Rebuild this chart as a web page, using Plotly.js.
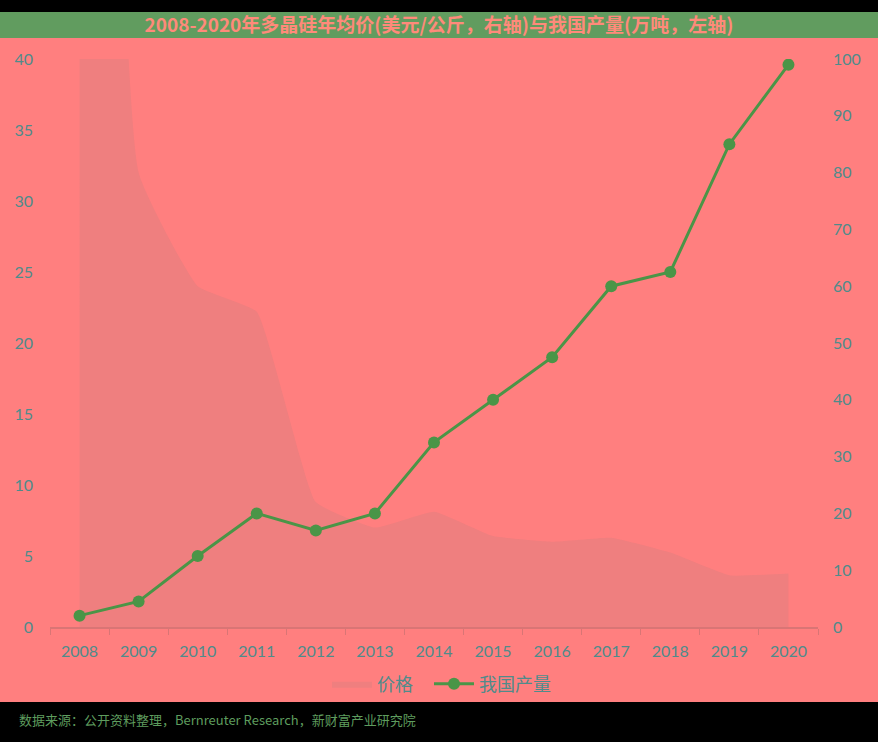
<!DOCTYPE html>
<html>
<head>
<meta charset="utf-8">
<script src="https://cdn.plot.ly/plotly-3.0.1.min.js"></script>
<style>
html,body{margin:0;padding:0;background:#000;}
#chart{width:878px;height:742px;}
</style>
</head>
<body>
<div id="chart"></div>
<script>
const years = ['2008','2009','2010','2011','2012','2013','2014','2015','2016','2017','2018','2019','2020'];
const price = [450, 80, 60, 55.5, 22, 17.5, 20.3, 16, 15, 15.7, 13.1, 9.1, 9.4];
const output = [0.8, 1.8, 5.0, 8.0, 6.8, 8.0, 13.0, 16.0, 19.0, 24.0, 25.0, 34.0, 39.6];
const titleText = '2008-2020年多晶硅年均价(美元/公斤，右轴)与我国产量(万吨，左轴)';
const sourceText = '数据来源：公开资料整理，Bernreuter Research，新财富产业研究院';

const W = 878, H = 742;
const L = 50, R = 60, T = 59, B = 115;
const pw = W - L - R, ph = H - T - B;
const px = p => (p - L) / pw;
const py = p => (H - B - p) / ph;

const labelColor = '#4f8b8b';
const font = 'Lato, "Noto Sans CJK SC", "Noto Sans", sans-serif';
const legendFont = {size: 18, color: labelColor, family: '"Noto Sans CJK SC", sans-serif'};

const traces = [
  {
    x: years, y: price, name: '价格', type: 'scatter', mode: 'lines',
    fill: 'tozeroy', fillcolor: '#EF7F7F',
    line: {width: 0, shape: 'spline', smoothing: 0.35, color: '#EF7F7F'},
    yaxis: 'y', legend: 'legend'
  },
  {
    x: years, y: output, name: '我国产量', type: 'scatter', mode: 'lines+markers',
    line: {width: 3, color: '#4a9547'},
    marker: {size: 12, color: '#4a9547'},
    yaxis: 'y2', legend: 'legend2'
  }
];

const layout = {
  width: W, height: H,
  margin: {l: L, r: R, t: T, b: B, pad: 0},
  paper_bgcolor: '#FF7F7F',
  plot_bgcolor: '#FF7F7F',
  font: {family: font, color: labelColor},
  title: {
    text: '<b>' + titleText + '</b>',
    font: {family: '"Noto Sans CJK SC", sans-serif', size: 19, color: '#FF8A7A'},
    x: 0.5, xanchor: 'center', y: 1 - 25 / H, yanchor: 'middle', yref: 'container'
  },
  showlegend: true,
  legend: {
    orientation: 'h', x: px(333 - 6), xanchor: 'left', y: py(684), yanchor: 'middle',
    font: legendFont, itemwidth: 40, bgcolor: 'rgba(0,0,0,0)'
  },
  legend2: {
    orientation: 'h', x: px(435 - 6), xanchor: 'left', y: py(684), yanchor: 'middle',
    font: legendFont, itemwidth: 40, bgcolor: 'rgba(0,0,0,0)'
  },
  xaxis: {
    type: 'category', range: [-0.5, 12.5], autorange: false,
    tickson: 'boundaries', ticks: 'outside', ticklen: 6,
    tickcolor: '#d97575', showline: true, linecolor: '#d97575', linewidth: 2,
    showgrid: false, zeroline: false, ticklabelstandoff: 9,
    tickfont: {size: 16, color: labelColor, family: font}
  },
  yaxis: {
    side: 'right', range: [0, 100], dtick: 10, showgrid: false, zeroline: false,
    showline: false, ticks: '', ticklabelstandoff: 14,
    tickfont: {size: 16, color: labelColor, family: font}
  },
  yaxis2: {
    overlaying: 'y', side: 'left', range: [0, 40], dtick: 5, showgrid: false,
    zeroline: false, showline: false, ticks: '', ticklabelstandoff: 16,
    tickfont: {size: 16, color: labelColor, family: font}
  },
  shapes: [
    {type: 'rect', xref: 'paper', yref: 'paper', x0: px(0), x1: px(W), y0: py(0), y1: py(12),
     fillcolor: '#000', line: {width: 0}, layer: 'below'},
    {type: 'rect', xref: 'paper', yref: 'paper', x0: px(0), x1: px(W), y0: py(12), y1: py(38),
     fillcolor: '#619c5f', line: {width: 0}, layer: 'below'},
    {type: 'rect', xref: 'paper', yref: 'paper', x0: px(0), x1: px(W), y0: py(702), y1: py(H),
     fillcolor: '#000', line: {width: 0}, layer: 'below'}
  ],
  annotations: [
    {text: sourceText, xref: 'paper', yref: 'paper', x: px(17), y: py(719),
     xanchor: 'left', yanchor: 'middle', showarrow: false,
     font: {size: 13, color: '#5e9c5e', family: '"Noto Sans CJK SC", sans-serif'}}
  ]
};

Plotly.newPlot('chart', traces, layout, {displayModeBar: false, staticPlot: true});
</script>
</body>
</html>
